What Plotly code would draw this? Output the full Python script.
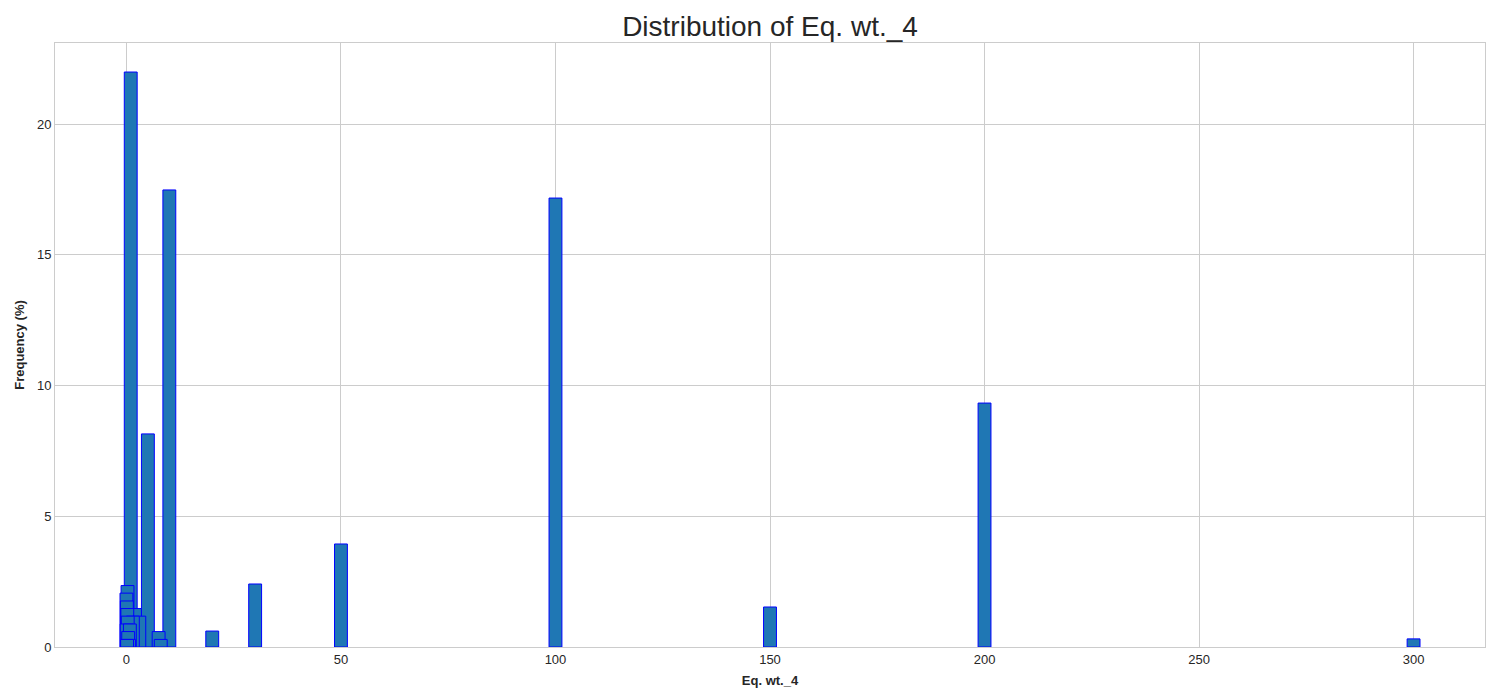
import plotly.graph_objects as go

# Values (category of Eq. wt._4) and their frequency in percent, in drawing order
values = [1, 10, 100, 200, 5, 50, 30, 0.25, 0.0, 0.1, 150, 2, 0.2, 3, 1.5, 0.3,
          0.05, 0.8, 7.5, 20, 0.4, 8, 300, 0.6, 0.15]
freq_pct = [21.99, 17.48, 17.17, 9.33, 8.15, 3.94, 2.41, 2.35, 2.06, 1.76, 1.53, 1.47,
            1.47, 1.18, 1.18, 1.18, 0.88, 0.88, 0.59, 0.61, 0.59, 0.29, 0.31, 0.29, 0.29]

x_ticks = [0, 50, 100, 150, 200, 250, 300]
y_ticks = [0, 5, 10, 15, 20]

fig = go.Figure()
fig.add_trace(go.Bar(
    x=values, y=freq_pct, width=3,
    marker=dict(color="#1f77b4", line=dict(color="blue", width=1)),
))

W, H = 1492, 692
grid = "#cccccc"
font = "Liberation Sans, Arial, sans-serif"
fig.update_layout(
    width=W, height=H,
    barmode="overlay",
    showlegend=False,
    plot_bgcolor="white", paper_bgcolor="white",
    margin=dict(l=47, r=15, t=35, b=53),
    font=dict(family=font, color="#262626", size=13),
    title=dict(text="Distribution of Eq. wt._4", x=0.5, xref="paper",
               y=1 - 18 / H, yanchor="middle", yref="container",
               font=dict(size=28, color="#262626", family=font)),
    xaxis=dict(range=[-16.65, 316.65], tickvals=x_ticks, showgrid=True, gridcolor=grid,
               gridwidth=1, zeroline=False, showline=True, linecolor=grid, mirror=True,
               ticks="", tickfont=dict(size=13), automargin=False,
               title=dict(text="<b>Eq. wt._4</b>", font=dict(size=13), standoff=10)),
    yaxis=dict(range=[0, 23.1], tickvals=y_ticks, showgrid=True, gridcolor=grid,
               gridwidth=1, zeroline=False, showline=True, linecolor=grid, mirror=True,
               ticks="", tickfont=dict(size=13), automargin=False,
               title=dict(text="<b>Frequency (%)</b>", font=dict(size=13), standoff=9)),
)

fig.write_html("out.html")
